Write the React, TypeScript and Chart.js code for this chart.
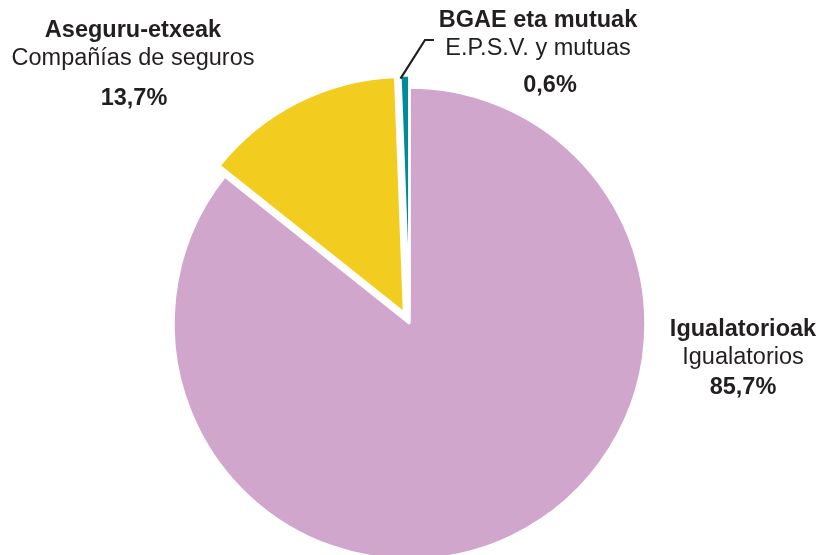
import React, { useEffect, useRef } from 'react';
import { Chart, registerables } from 'chart.js';

Chart.register(...registerables);

// ---- data ----
const categoriesEu = ['Igualatorioak', 'Aseguru-etxeak', 'BGAE eta mutuak'];
const categoriesEs = ['Igualatorios', 'Compañías de seguros', 'E.P.S.V. y mutuas'];
const shares = [85.7, 13.7, 0.6];

// ---- styles ----
const sliceColors = ['#d1a6cc', '#f2cd1f', '#008c96'];
const sliceOffsetsPx = [0, 12, 12];
const textColor = '#231f20';
const fontFamily = '"Liberation Sans", Arial, Helvetica, sans-serif';

// label placement (text anchors, not marks)
const labelLayout = [
  { x: 743, yBold: 336, yReg: 363.5, pctX: 743, yPct: 394 },
  { x: 133, yBold: 36.5, yReg: 64.5, pctX: 134, yPct: 104.5 },
  { x: 538, yBold: 26.5, yReg: 55, pctX: 550, yPct: 91.5 },
];
const leaderElbow = { x1: 425, y1: 40, x2: 434, y2: 40 };

const fmtPct = (v: number) => v.toFixed(1).replace('.', ',') + '%';

// Explode slices by translating each library arc element before it draws
const explodePlugin = {
  id: 'explodeSlices',
  beforeDatasetDraw(chart: any, args: any) {
    const ctx = chart.ctx as CanvasRenderingContext2D;
    const meta = args.meta;
    meta.data.forEach((el: any, i: number) => {
      const p = el.getProps(['startAngle', 'endAngle'], true);
      const mid = (p.startAngle + p.endAngle) / 2;
      const off = sliceOffsetsPx[i] || 0;
      ctx.save();
      ctx.translate(Math.cos(mid) * off, Math.sin(mid) * off);
      el.draw(ctx, chart.chartArea);
      ctx.restore();
    });
    return false;
  },
};

const labelPlugin = {
  id: 'pieLabels',
  afterDraw(chart: any) {
    const ctx = chart.ctx as CanvasRenderingContext2D;
    ctx.save();
    ctx.fillStyle = textColor;
    ctx.textAlign = 'center';
    ctx.textBaseline = 'alphabetic';
    categoriesEu.forEach((eu, i) => {
      const L = labelLayout[i];
      ctx.font = `bold 23.5px ${fontFamily}`;
      ctx.fillText(eu, L.x, L.yBold);
      ctx.font = `23.5px ${fontFamily}`;
      ctx.fillText(categoriesEs[i], L.x, L.yReg);
      ctx.font = `bold 23.5px ${fontFamily}`;
      ctx.fillText(fmtPct(shares[i]), L.pctX, L.yPct);
    });

    // leader line for the small slice
    const meta = chart.getDatasetMeta(0);
    const el = meta.data[2];
    if (el) {
      const p = el.getProps(['x', 'y', 'startAngle', 'endAngle', 'outerRadius'], true);
      const mid = (p.startAngle + p.endAngle) / 2;
      const off = sliceOffsetsPx[2];
      const cx = p.x + Math.cos(mid) * off;
      const cy = p.y + Math.sin(mid) * off;
      const sx = cx + Math.cos(p.startAngle) * (p.outerRadius - 3);
      const sy = cy + Math.sin(p.startAngle) * (p.outerRadius - 3);
      ctx.strokeStyle = textColor;
      ctx.lineWidth = 2.2;
      ctx.beginPath();
      ctx.moveTo(sx, sy);
      ctx.lineTo(leaderElbow.x1, leaderElbow.y1);
      ctx.lineTo(leaderElbow.x2, leaderElbow.y2);
      ctx.stroke();
    }
    ctx.restore();
  },
};

export default function App() {
  const ref = useRef<HTMLCanvasElement | null>(null);
  useEffect(() => {
    if (!ref.current) return;
    const chart = new Chart(ref.current, {
      type: 'pie',
      data: {
        labels: categoriesEu,
        datasets: [
          {
            data: shares,
            backgroundColor: sliceColors,
            borderColor: '#ffffff',
            borderWidth: 2.5,
          },
        ],
      },
      options: {
        responsive: false,
        animation: false,
        events: [],
        radius: 236,
        rotation: 0,
        layout: { padding: { left: 0, right: 1, top: 0, bottom: 0 } },
        plugins: {
          legend: { display: false },
          tooltip: { enabled: false },
          title: { display: false },
        },
      } as any,
      plugins: [explodePlugin, labelPlugin],
    });
    return () => chart.destroy();
  }, []);
  return (
    <div
      style={{
        position: 'fixed',
        left: 0,
        top: 0,
        width: 820,
        height: 555,
        overflow: 'hidden',
        background: '#ffffff',
      }}
    >
      <canvas ref={ref} width={820} height={647} style={{ display: 'block' }} />
    </div>
  );
}
